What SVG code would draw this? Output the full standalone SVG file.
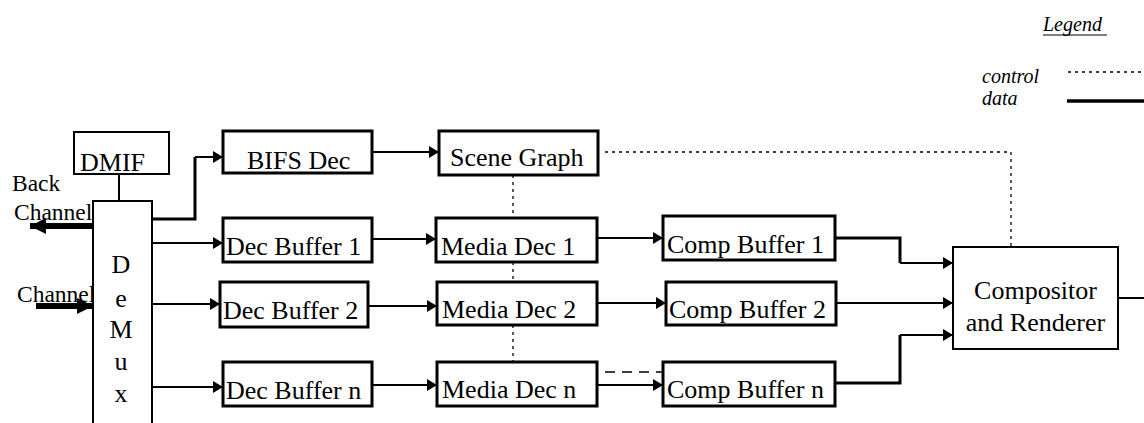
<svg xmlns="http://www.w3.org/2000/svg" width="1144" height="423" viewBox="0 0 1144 423">
<style>
text{font-family:"Liberation Serif","Times New Roman",serif;fill:#000}
.t{font-size:26px}
.s{font-size:23.5px}
.lg{font-size:20px;font-style:italic}
.box{fill:#fff;stroke:#000;stroke-width:3}
.thin{fill:#fff;stroke:#000;stroke-width:2}
.c{fill:none;stroke:#000;stroke-width:2}
.ct{fill:none;stroke:#000;stroke-width:3}
.big{fill:none;stroke:#000;stroke-width:6}
.dot{fill:none;stroke:#000;stroke-width:1.3;stroke-dasharray:3 4}
.dash{fill:none;stroke:#000;stroke-width:1.5;stroke-dasharray:10 7}
</style>
<defs>
<marker id="arr" viewBox="0 0 10 12" refX="10" refY="6" markerWidth="10" markerHeight="12" markerUnits="userSpaceOnUse" orient="auto">
<path d="M0,0 L10,6 L0,12 z" fill="#000"/>
</marker>
<marker id="bigarr" viewBox="0 0 16 16" refX="16" refY="8" markerWidth="16" markerHeight="16" markerUnits="userSpaceOnUse" orient="auto">
<path d="M0,0 L16,8 L0,16 z" fill="#000"/>
</marker>
</defs>

<g id="legend">
<text class="lg" x="1043" y="31">Legend</text>
<line x1="1043" y1="35" x2="1107" y2="35" stroke="#000" stroke-width="1"/>
<text class="lg" x="982" y="83">control</text>
<text class="lg" x="982" y="105">data</text>
<line class="dot" x1="1068" y1="72" x2="1144" y2="72"/>
<line x1="1067" y1="101" x2="1144" y2="101" stroke="#000" stroke-width="3.5"/>
</g>

<g id="connectors">
<line class="c" x1="119" y1="174" x2="119" y2="201"/>
<line class="big" x1="93" y1="226" x2="30" y2="226" marker-end="url(#bigarr)"/>
<line class="big" x1="36" y1="306" x2="93" y2="306" marker-end="url(#bigarr)"/>
<polyline class="ct" points="152,219 195,219 195,157"/>
<line class="c" x1="195" y1="157" x2="223" y2="157" marker-end="url(#arr)"/>
<line class="c" x1="152" y1="243" x2="223" y2="243" marker-end="url(#arr)"/>
<line class="c" x1="152" y1="304" x2="220" y2="304" marker-end="url(#arr)"/>
<line class="c" x1="152" y1="387" x2="223" y2="387" marker-end="url(#arr)"/>
<line class="c" x1="372" y1="152" x2="439" y2="152" marker-end="url(#arr)"/>
<line class="c" x1="372" y1="239" x2="436" y2="239" marker-end="url(#arr)"/>
<line class="c" x1="368" y1="306" x2="437" y2="306" marker-end="url(#arr)"/>
<line class="c" x1="372" y1="385" x2="437" y2="385" marker-end="url(#arr)"/>
<line class="c" x1="597" y1="238" x2="663" y2="238" marker-end="url(#arr)"/>
<line class="c" x1="597" y1="303" x2="666" y2="303" marker-end="url(#arr)"/>
<line class="c" x1="597" y1="385" x2="663" y2="385" marker-end="url(#arr)"/>
<polyline class="ct" points="835,238 900,238 900,263"/>
<line class="c" x1="900" y1="263" x2="953" y2="263" marker-end="url(#arr)"/>
<line class="c" x1="836" y1="303" x2="953" y2="303" marker-end="url(#arr)"/>
<polyline class="ct" points="835,383 900,383 900,335"/>
<line class="c" x1="900" y1="335" x2="953" y2="335" marker-end="url(#arr)"/>
<line class="c" x1="1118" y1="298" x2="1144" y2="298"/>
<polyline class="dot" points="605,152 1011,152 1011,247"/>
<line class="dot" x1="513" y1="175" x2="513" y2="218"/>
<line class="dot" x1="513" y1="262" x2="513" y2="282"/>
<line class="dot" x1="513" y1="325" x2="513" y2="362"/>
<line class="dash" x1="605" y1="372" x2="722" y2="372"/>
<line class="dot" x1="112" y1="403" x2="112" y2="413"/>
</g>

<g id="back-channel-labels">
<text class="s" x="12" y="191">Back</text>
<text class="s" x="14" y="220">Channel</text>
<text class="s" x="17" y="302">Channel</text>
</g>

<g id="dmif">
<rect class="thin" x="74" y="132" width="95" height="42"/>
<text class="t" x="80" y="171">DMIF</text>
</g>

<g id="demux">
<rect class="thin" x="93" y="201" width="59" height="230"/>
<text class="t" x="121" y="273" text-anchor="middle">D</text>
<text class="t" x="121" y="307" text-anchor="middle">e</text>
<text class="t" x="121" y="338" text-anchor="middle">M</text>
<text class="t" x="121" y="370" text-anchor="middle">u</text>
<text class="t" x="121" y="402" text-anchor="middle">x</text>
</g>

<g id="bifs-dec">
<rect class="box" x="223" y="131" width="149" height="42"/>
<text class="t" x="247" y="169">BIFS Dec</text>
</g>

<g id="scene-graph">
<rect class="box" x="439" y="131" width="159" height="44"/>
<text class="t" x="450" y="166">Scene Graph</text>
</g>

<g id="dec-buffer-1">
<rect class="box" x="223" y="218" width="149" height="44"/>
<text class="t" x="226" y="255">Dec Buffer 1</text>
</g>
<g id="dec-buffer-2">
<rect class="box" x="220" y="282" width="148" height="45"/>
<text class="t" x="223" y="319">Dec Buffer 2</text>
</g>
<g id="dec-buffer-n">
<rect class="box" x="223" y="362" width="149" height="44"/>
<text class="t" x="226" y="399">Dec Buffer n</text>
</g>

<g id="media-dec-1">
<rect class="box" x="436" y="218" width="161" height="44"/>
<text class="t" x="441" y="255">Media Dec 1</text>
</g>
<g id="media-dec-2">
<rect class="box" x="437" y="282" width="160" height="43"/>
<text class="t" x="442" y="318">Media Dec 2</text>
</g>
<g id="media-dec-n">
<rect class="box" x="437" y="362" width="160" height="44"/>
<text class="t" x="442" y="398">Media Dec n</text>
</g>

<g id="comp-buffer-1">
<rect class="box" x="663" y="216" width="172" height="44"/>
<text class="t" x="667" y="253">Comp Buffer 1</text>
</g>
<g id="comp-buffer-2">
<rect class="box" x="666" y="282" width="170" height="43"/>
<text class="t" x="669" y="318">Comp Buffer 2</text>
</g>
<g id="comp-buffer-n">
<rect class="box" x="663" y="362" width="172" height="44"/>
<text class="t" x="667" y="398">Comp Buffer n</text>
</g>

<g id="compositor">
<rect class="thin" x="953" y="247" width="165" height="102"/>
<text class="t" x="1035.5" y="299" text-anchor="middle">Compositor</text>
<text class="t" x="1035.5" y="331" text-anchor="middle">and Renderer</text>
</g>
</svg>
